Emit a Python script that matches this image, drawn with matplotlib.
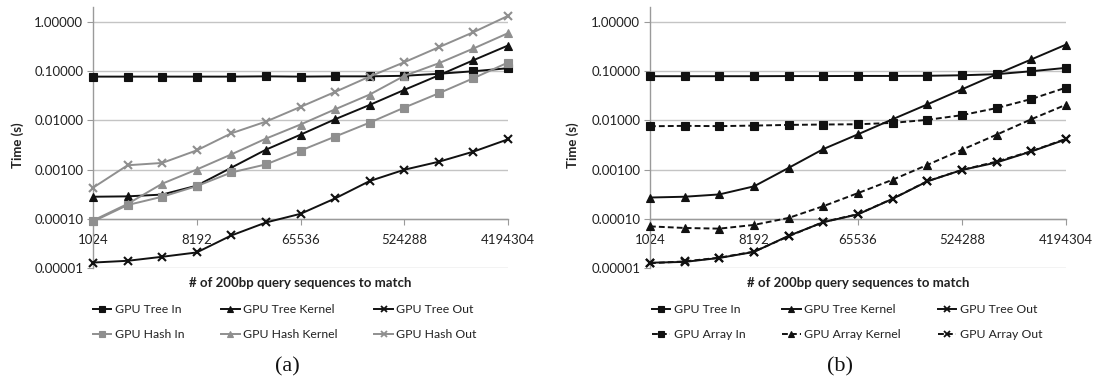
import matplotlib
matplotlib.use('Agg')
import matplotlib.pyplot as plt
from matplotlib.lines import Line2D
from matplotlib.ticker import FixedLocator, NullLocator

plt.rcParams['font.family'] = ['Lato', 'DejaVu Sans']

# number of 200bp query sequences (2^10 .. 2^22)
queries = [1024, 2048, 4096, 8192, 16384, 32768, 65536, 131072,
           262144, 524288, 1048576, 2097152, 4194304]
xtick_vals = [1024, 8192, 65536, 524288, 4194304]
ytick_vals = [1e-5, 1e-4, 1e-3, 1e-2, 1e-1, 1.0]

# panel (a)
tree_in_a = [0.077, 0.077, 0.077, 0.077, 0.077, 0.078, 0.077, 0.078,
             0.078, 0.080, 0.088, 0.099, 0.114]
tree_kernel_a = [0.00028, 0.000285, 0.00031, 0.00047, 0.00109, 0.00253, 0.0051,
                 0.0105, 0.0205, 0.0414, 0.082, 0.166, 0.33]
tree_out_a = [1.29e-5, 1.40e-5, 1.69e-5, 2.07e-5, 4.58e-5, 8.4e-5, 1.26e-4,
              2.59e-4, 5.84e-4, 9.9e-4, 1.44e-3, 2.31e-3, 4.11e-3]
hash_in_a = [8.8e-5, 1.9e-4, 2.8e-4, 4.6e-4, 8.7e-4, 1.27e-3, 2.42e-3,
             4.66e-3, 8.97e-3, 0.0181, 0.0354, 0.0715, 0.149]
hash_kernel_a = [9.2e-5, 2.0e-4, 5.15e-4, 1.0e-3, 2.03e-3, 4.24e-3, 8.2e-3,
                 0.0167, 0.0333, 0.0798, 0.144, 0.287, 0.588]
hash_out_a = [4.27e-4, 1.22e-3, 1.36e-3, 2.45e-3, 5.44e-3, 9.4e-3, 0.0187,
              0.0377, 0.0773, 0.151, 0.305, 0.616, 1.32]

# panel (b)
tree_in_b = [0.0785, 0.0785, 0.0785, 0.0785, 0.079, 0.079, 0.0795, 0.0795,
             0.080, 0.082, 0.0863, 0.099, 0.116]
tree_kernel_b = [0.00027, 0.00028, 0.000312, 0.000455, 0.00108, 0.0026, 0.00519,
                 0.0105, 0.021, 0.0425, 0.0863, 0.172, 0.344]
tree_out_b = [1.28e-5, 1.33e-5, 1.6e-5, 2.12e-5, 4.5e-5, 8.5e-5, 1.23e-4,
              2.54e-4, 5.75e-4, 9.8e-4, 1.39e-3, 2.33e-3, 4.1e-3]
array_in_b = [7.56e-3, 7.7e-3, 7.6e-3, 7.8e-3, 8.05e-3, 8.2e-3, 8.3e-3,
              8.85e-3, 0.0102, 0.0127, 0.0177, 0.027, 0.046]
array_kernel_b = [7.0e-5, 6.5e-5, 6.3e-5, 7.5e-5, 1.04e-4, 1.8e-4, 3.32e-4,
                  6.2e-4, 1.24e-3, 2.52e-3, 5.1e-3, 0.0105, 0.0207]
array_out_b = [1.25e-5, 1.36e-5, 1.62e-5, 2.15e-5, 4.4e-5, 8.6e-5, 1.24e-4,
               2.56e-4, 5.8e-4, 9.8e-4, 1.45e-3, 2.35e-3, 4.2e-3]

BLACK = '#111111'
GRAY = '#8f8f8f'
DASH = (0, (3, 1.6))

fig = plt.figure(figsize=(10.94, 3.85), dpi=100)


def style_axes(ax):
    ax.set_yscale('log')
    ax.set_xscale('log', base=2)
    ax.set_xlim(1024, 4194304)
    ax.set_ylim(1e-5, 2.0)
    ax.yaxis.set_major_locator(FixedLocator(ytick_vals))
    ax.yaxis.set_minor_locator(NullLocator())
    ax.set_yticklabels(['%.5f' % v for v in ytick_vals])
    ax.xaxis.set_major_locator(FixedLocator(xtick_vals))
    ax.xaxis.set_minor_locator(NullLocator())
    ax.set_xticklabels([str(v) for v in xtick_vals])
    for v in ytick_vals:
        ax.axhline(v, color='#c4c4c4', lw=1.0, zorder=0)
    for s in ['top', 'right']:
        ax.spines[s].set_visible(False)
    ax.spines['left'].set_color('#9a9a9a')
    ax.spines['left'].set_linewidth(1.0)
    ax.spines['bottom'].set_position(('data', 1e-4))
    ax.spines['bottom'].set_color('#9a9a9a')
    ax.spines['bottom'].set_linewidth(1.0)
    ax.tick_params(axis='y', length=4, width=0.8, color='#9a9a9a', pad=3,
                   labelsize=9.5, labelcolor='#222222')
    ax.tick_params(axis='x', length=4, width=0.8, color='#9a9a9a', pad=7,
                   labelsize=9.5, labelcolor='#222222')


def draw(ax, y, color, marker, ms, ls='-'):
    mew = 1.5 if marker == 'x' else 0.8
    ax.plot(queries, y, color=color, lw=1.4, ls=ls, marker=marker,
            markersize=ms, markeredgewidth=mew, clip_on=False, zorder=3)


# ---------- (a) ----------
axa = fig.add_axes([0.085, 0.3039, 0.3794, 0.678])
style_axes(axa)
draw(axa, tree_in_a, BLACK, 's', 5.5)
draw(axa, tree_kernel_a, BLACK, '^', 6)
draw(axa, tree_out_a, BLACK, 'x', 6)
draw(axa, hash_in_a, GRAY, 's', 5.5)
draw(axa, hash_kernel_a, GRAY, '^', 6)
draw(axa, hash_out_a, GRAY, 'x', 6)

# ---------- (b) ----------
axb = fig.add_axes([0.5941, 0.3039, 0.3803, 0.678])
style_axes(axb)
draw(axb, tree_in_b, BLACK, 's', 5.5)
draw(axb, tree_kernel_b, BLACK, '^', 6)
draw(axb, tree_out_b, BLACK, 'x', 6)
draw(axb, array_in_b, BLACK, 's', 5.5, DASH)
draw(axb, array_kernel_b, BLACK, '^', 6, DASH)
draw(axb, array_out_b, BLACK, 'x', 6, DASH)


def handle(color, marker, ls='-'):
    mew = 1.3 if marker == 'x' else 0.8
    return Line2D([], [], color=color, lw=1.4, ls=ls, marker=marker,
                  markersize=5 if marker != 'x' else 5, markeredgewidth=mew)


# column-major order for ncol=3
h_a = [handle(BLACK, 's'), handle(GRAY, 's'), handle(BLACK, '^'),
       handle(GRAY, '^'), handle(BLACK, 'x'), handle(GRAY, 'x')]
l_a = ['GPU Tree In', 'GPU Hash In', 'GPU Tree Kernel',
       'GPU Hash Kernel', 'GPU Tree Out', 'GPU Hash Out']
h_b = [handle(BLACK, 's'), handle(BLACK, 's', DASH), handle(BLACK, '^'),
       handle(BLACK, '^', DASH), handle(BLACK, 'x'), handle(BLACK, 'x', DASH)]
l_b = ['GPU Tree In', 'GPU Array In', 'GPU Tree Kernel',
       'GPU Array Kernel', 'GPU Tree Out', 'GPU Array Out']

for h, l, cx in [(h_a, l_a, 285 / 1094), (h_b, l_b, 847 / 1094)]:
    fig.legend(h, l, ncol=3, loc='center', bbox_to_anchor=(cx, 1 - 322 / 385),
               frameon=False, fontsize=8.8, handlelength=1.5, handletextpad=0.3,
               columnspacing=3.0, labelspacing=1.15, labelcolor='#222222')

for cx in [300 / 1094, 858 / 1094]:
    fig.text(cx, 1 - 283 / 385, '# of 200bp query sequences to match', ha='center',
             va='center', fontsize=9.5, fontweight='bold', color='#222222')
for x in [18 / 1094, 573 / 1094]:
    fig.text(x, 1 - 145 / 385, 'Time (s)', rotation=90, ha='center', va='center',
             fontsize=9.5, fontweight='bold', color='#222222')

for cx, lab in [(287 / 1094, '(a)'), (840 / 1094, '(b)')]:
    fig.text(cx, 1 - 367 / 385, lab, ha='center', va='center', fontsize=16,
             family='Liberation Serif', color='#111111')

fig.savefig('out.png', dpi=100)
